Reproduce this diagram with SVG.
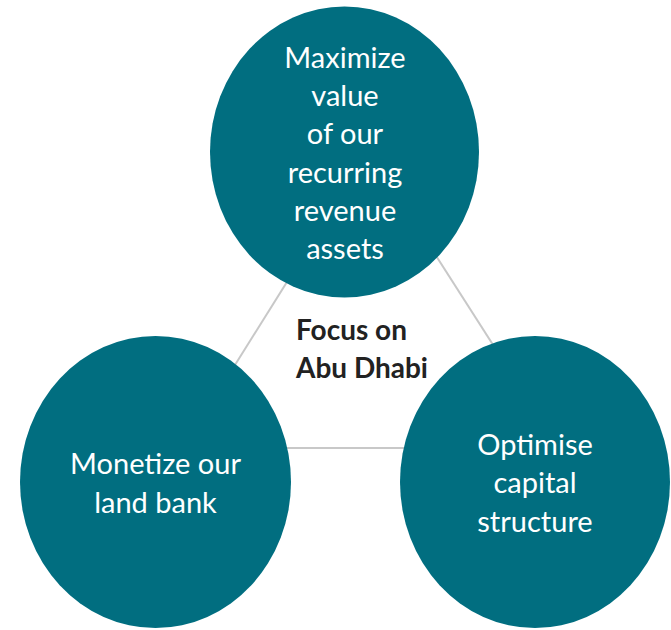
<svg xmlns="http://www.w3.org/2000/svg" width="671" height="630" viewBox="0 0 671 630">
<style>
.node{fill:#016e80}
.lbl{fill:#ffffff;font-family:Lato,"Open Sans",sans-serif;font-size:29px;text-anchor:middle}
.conn{stroke:#c8c8c8;stroke-width:2;fill:none}
.focus{fill:#222222;font-family:Lato,"Open Sans",sans-serif;font-size:28px;font-weight:bold}
</style>
<rect width="671" height="630" fill="#ffffff"/>
<g id="connectors">
<line class="conn" x1="369" y1="151" x2="183" y2="448"/>
<line class="conn" x1="369" y1="151" x2="559" y2="448"/>
<line class="conn" x1="183" y1="448" x2="559" y2="448"/>
</g>
<g id="center">
<text class="focus" x="296" y="340">Focus on</text>
<text class="focus" x="296" y="378">Abu Dhabi</text>
</g>
<g id="node-top">
<ellipse class="node" cx="344.5" cy="152" rx="134.5" ry="145.5"/>
<text class="lbl" x="345" y="68">Maximize</text>
<text class="lbl" x="345" y="106">value</text>
<text class="lbl" x="345" y="144">of our</text>
<text class="lbl" x="345" y="183">recurring</text>
<text class="lbl" x="345" y="221">revenue</text>
<text class="lbl" x="345" y="259">assets</text>
</g>
<g id="node-left">
<ellipse class="node" cx="155.5" cy="482" rx="135.5" ry="146"/>
<text class="lbl" x="155.5" y="474">Monetize our</text>
<text class="lbl" x="155.5" y="513">land bank</text>
</g>
<g id="node-right">
<ellipse class="node" cx="535" cy="482" rx="135" ry="146"/>
<text class="lbl" x="535" y="455">Optimise</text>
<text class="lbl" x="535" y="493">capital</text>
<text class="lbl" x="535" y="532">structure</text>
</g>
</svg>
